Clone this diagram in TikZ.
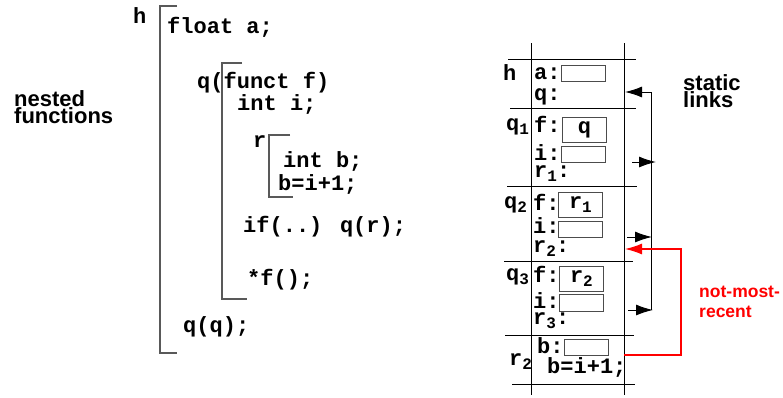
\documentclass[tikz,border=0pt]{standalone}
\usepackage{fontspec}
\setmainfont{Liberation Sans}
\newfontfamily\codefont{Liberation Mono}
\usetikzlibrary{arrows.meta}
\tikzset{
  code/.style={anchor=base west, inner sep=0pt, font=\codefont\bfseries\fontsize{22}{22}\selectfont},
  lbl/.style={anchor=base west, inner sep=0pt, align=left, font=\bfseries\fontsize{22}{17}\selectfont},
  scopeline/.style={draw=black!65, line width=1.3pt},
  stackline/.style={line width=1pt},
  slot/.style={draw=black!70, line width=0.8pt, anchor=west, inner sep=0pt, minimum width=44pt,
               minimum height=16pt, font=\codefont\bfseries\fontsize{22}{22}\selectfont},
  link/.style={line width=1pt, -{Latex[length=17pt,width=11pt]}},
}
\newcommand{\lowix}[1]{\raisebox{-0.4ex}{\fontsize{16}{16}\selectfont #1}}

\begin{document}
\begin{tikzpicture}[x=1pt, y=-1pt]
\useasboundingbox (0,0) rectangle (783,397);
% program text
\node [lbl] (nested) at (14,123) {nested\\functions};
\node [code] (hname) at (133,23) {h};
\node [code] (floata) at (167,33) {float a;};
\node [code] (qhead) at (197,88) {q(funct f)};
\node [code] (inti) at (237,110) {int i;};
\node [code] (rname) at (253,147) {r};
\node [code] (intb) at (283,167) {int b;};
\node [code] (binc) at (278,190) {b=i+1;};
\node [code] (ifcall) at (243,232) {if(..) q(r);};
\node [code] (fcall) at (247,285) {*f();};
\node [code] (qcall) at (183,332) {q(q);};
% scope brackets
\draw [scopeline] (177,6)--(160,6)--(160,353)--(177,353);
\draw [scopeline] (242,63)--(222,63)--(222,299)--(247,299);
\draw [scopeline] (290,135)--(269,135)--(269,197)--(293,197);
% stack
\draw [stackline] (531,43)--(531,395);
\draw [stackline] (624,43)--(624,395);
\draw [stackline] (508,59)--(636,59);
\draw [stackline] (510,108)--(636,108);
\draw [stackline] (507,186)--(637,186);
\draw [stackline] (504,261)--(633,261);
\draw [stackline] (505,335)--(634,335);
\draw [stackline] (512,384)--(635,384);
% frame h
\node [code] (fh) at (503,80) {h};
\node [code] (ha) at (534,79) {a:};
\node [slot] (hab) at (561,73) {};
\node [code] (hq) at (534,100) {q:};
% frame q1
\node [code] (fq1) at (506,130) {q\lowix{1}};
\node [code] (q1f) at (534,132) {f:};
\node [slot, minimum height=25pt] (q1fb) at (562,129.5) {q};
\node [code] (q1i) at (534,160) {i:};
\node [slot] (q1ib) at (561,154) {};
\node [code] (q1r) at (534,177) {r\lowix{1}:};
% frame q2
\node [code] (fq2) at (504,208) {q\lowix{2}};
\node [code] (q2f) at (533,210) {f:};
\node [slot, minimum height=25pt] (q2fb) at (558,204.5) {r\lowix{1}};
\node [code] (q2i) at (533,233) {i:};
\node [slot] (q2ib) at (558,229) {};
\node [code] (q2r) at (533,252) {r\lowix{2}:};
% frame q3
\node [code] (fq3) at (506,280) {q\lowix{3}};
\node [code] (q3f) at (533,282) {f:};
\node [slot, minimum height=25pt] (q3fb) at (559,278.5) {r\lowix{2}};
\node [code] (q3i) at (533,308) {i:};
\node [slot, minimum height=17pt] (q3ib) at (559,302.5) {};
\node [code] (q3r) at (533,324) {r\lowix{3}:};
% frame r2
\node [code] (fr2) at (509,365) {r\lowix{2}};
\node [code] (r2b) at (537,353) {b:};
\node [slot] (r2bb) at (564,347) {};
\node [code] (r2inc) at (547,373) {b=i+1;};
% links
\node [lbl] (static) at (683,107) {static\\links};
\node [lbl, red, font=\bfseries\fontsize{17.5}{20}\selectfont] (nmr) at (699,317) {not-most-\\recent};
\coordinate (hq end) at (625,92);
\coordinate (spine top) at (651,92);
\coordinate (spine bot) at (651,310);
\coordinate (q1 out) at (632,162);
\coordinate (q1 in) at (656,162);
\coordinate (q2 out) at (627,237);
\coordinate (q2 in) at (652,237);
\coordinate (q3 out) at (628,310);
\coordinate (q3 in) at (653,310);
\draw [link] (spine bot)--(spine top)--(hq end);
\draw [link] (q1 out)--(q1 in);
\draw [link] (q2 out)--(q2 in);
\draw [link] (q3 out)--(q3 in);
\coordinate (r2 out) at (624,355);
\coordinate (r2 turn) at (681,355);
\coordinate (q2r end) at (625,249);
\draw [link, color=red, line width=1.3pt] (r2 out)--(r2 turn)|-(q2r end);
\end{tikzpicture}
\end{document}
